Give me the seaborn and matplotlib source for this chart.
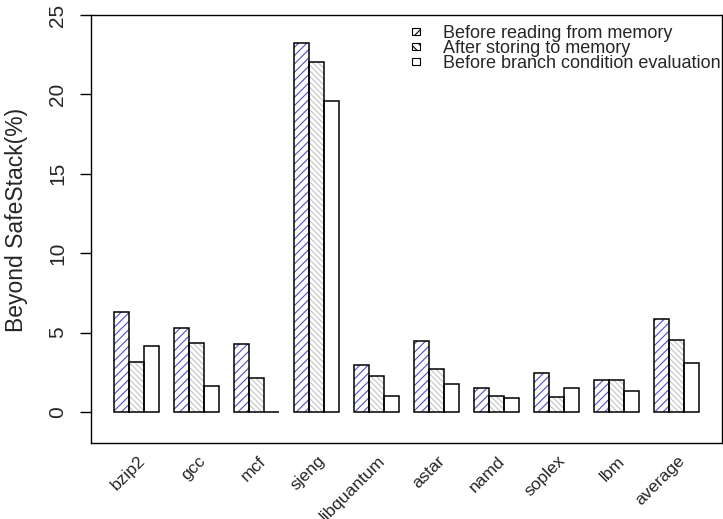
import numpy as np
import pandas as pd
import matplotlib
matplotlib.use("Agg")
import matplotlib.pyplot as plt
import seaborn as sns
from matplotlib.patches import Rectangle, Patch
from matplotlib.transforms import ScaledTranslation

benchmarks = ["bzip2", "gcc", "mcf", "sjeng", "libquantum", "astar", "namd", "soplex", "lbm", "average"]
before_read = [6.30, 5.26, 4.27, 23.26, 2.96, 4.45, 1.53, 2.46, 2.02, 5.86]
after_store = [3.15, 4.35, 2.13, 22.06, 2.29, 2.71, 0.98, 0.96, 2.02, 4.53]
before_branch = [4.18, 1.63, 0.0, 19.56, 0.98, 1.76, 0.89, 1.53, 1.32, 3.06]
series_names = ["Before reading from memory", "After storing to memory",
                "Before branch condition evaluation"]
y_ticks = [0, 5, 10, 15, 20, 25]

df = pd.DataFrame({
    "benchmark": benchmarks * 3,
    "value": before_read + after_store + before_branch,
    "series": [series_names[0]] * 10 + [series_names[1]] * 10 + [series_names[2]] * 10,
})

sns.set_theme(style="white")
plt.rcParams["font.family"] = ["Liberation Sans", "DejaVu Sans"]
plt.rcParams["hatch.linewidth"] = 0.8

fig = plt.figure(figsize=(7.23, 5.19), dpi=100)
ax = fig.add_axes([91 / 723, 76 / 519, 631 / 723, 428 / 519])

sns.barplot(data=df, x="benchmark", y="value", hue="series", order=benchmarks,
            hue_order=series_names, palette=["white"] * 3, saturation=1,
            width=0.75, gap=0, dodge=True, errorbar=None, linewidth=0,
            legend=False, ax=ax)

hatches = ["////", "\\\\\\\\\\\\", None]
hatch_colors = ["#5050c4", "#c4c4c4", "white"]
for i, cont in enumerate(ax.containers):
    for bar in cont:
        if hatches[i]:
            bar.set_hatch(hatches[i])
        bar.set_edgecolor(hatch_colors[i])
        bar.set_linewidth(0)
        ax.add_patch(Rectangle((bar.get_x(), bar.get_y()), bar.get_width(), bar.get_height(),
                               fill=False, edgecolor="black", linewidth=1.1, zorder=3))

ax.set_xlim(-0.765, 9.765)
ax.set_ylim(-1.952, 25.0)

for s in ax.spines.values():
    s.set_visible(True)
    s.set_color("black")
    s.set_linewidth(1.0)

ax.set_yticks(y_ticks)
ax.set_yticklabels([str(v) for v in y_ticks], rotation=90, va="center", fontsize=15)
ax.tick_params(axis="y", left=True, direction="out", length=8, width=1, color="black", pad=9)

ax.set_xticks(range(len(benchmarks)))
ax.set_xticklabels(benchmarks, rotation=45, ha="right", va="baseline",
                   rotation_mode="anchor", fontsize=12.5)
ax.tick_params(axis="x", bottom=False, length=0, pad=13.5)
for lab in ax.get_xticklabels():
    lab.set_transform(lab.get_transform() + ScaledTranslation(0.095, 0, fig.dpi_scale_trans))

ax.set_xlabel("")
ax.set_ylabel("Beyond SafeStack(%)", fontsize=16.5)
ax.yaxis.set_label_coords(-0.1, (443 - 220) / 428)

handles = [Patch(facecolor="white", edgecolor="black", hatch="////", linewidth=0.8),
           Patch(facecolor="white", edgecolor="black", hatch="\\\\\\\\", linewidth=0.8),
           Patch(facecolor="white", edgecolor="black", linewidth=0.8)]
ax.legend(handles, series_names, loc="upper left",
          bbox_to_anchor=(411.7 / 723, 1 - 25 / 519), bbox_transform=fig.transFigure,
          frameon=False, fontsize=13, handlelength=0.46, handleheight=0.22,
          handletextpad=1.28, labelspacing=-0.1, borderpad=0, borderaxespad=0)

fig.savefig("out.png", dpi=100, facecolor="white")
